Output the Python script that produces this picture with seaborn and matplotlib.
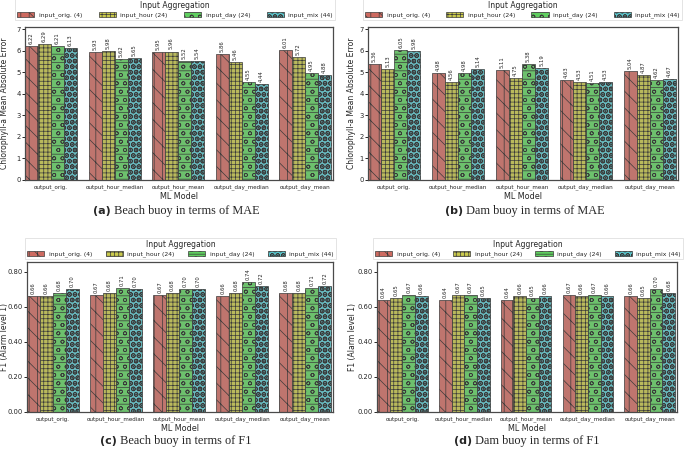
import matplotlib
matplotlib.use("Agg")
import matplotlib.pyplot as plt
import matplotlib.patches as mpatches
import seaborn as sns
import pandas as pd

# data
models = ["output_orig.", "output_hour_median", "output_hour_mean",
          "output_day_median", "output_day_mean"]
inputs = ["input_orig. (4)", "input_hour (24)", "input_day (24)", "input_mix (44)"]

beach_mae = [[6.22, 6.29, 6.21, 6.13],
             [5.93, 5.98, 5.62, 5.65],
             [5.95, 5.96, 5.52, 5.54],
             [5.86, 5.46, 4.55, 4.44],
             [6.01, 5.72, 4.95, 4.88]]
dam_mae = [[5.36, 5.13, 6.05, 5.98],
           [4.98, 4.56, 4.98, 5.14],
           [5.11, 4.75, 5.38, 5.19],
           [4.63, 4.53, 4.51, 4.53],
           [5.04, 4.87, 4.62, 4.67]]
beach_f1 = [[0.66, 0.66, 0.68, 0.70],
            [0.67, 0.68, 0.71, 0.70],
            [0.67, 0.68, 0.70, 0.70],
            [0.66, 0.68, 0.74, 0.72],
            [0.68, 0.68, 0.71, 0.72]]
dam_f1 = [[0.64, 0.65, 0.67, 0.66],
          [0.64, 0.67, 0.67, 0.65],
          [0.64, 0.66, 0.65, 0.66],
          [0.67, 0.66, 0.67, 0.66],
          [0.66, 0.65, 0.70, 0.68]]

colors = ["#cd6a60", "#c9c94c", "#5fcf5f", "#5ac6cc"]
hatches = ["\\\\||", "++++", "--oo", "OOO..."]

sns.set_style("white")
plt.rcParams["font.family"] = ["DejaVu Sans"]
plt.rcParams["hatch.linewidth"] = 0.5

W, H = 685, 449
fig = plt.figure(figsize=(W / 100, H / 100), dpi=100)


def px_axes(l, t, r, b):
    ax = fig.add_axes([l / W, 1 - b / H, (r - l) / W, (b - t) / H])
    ax._px = (l, r)
    return ax


def panel(ax, values, ylabel, ymax, ticks, fmt, leg_box, label_x):
    rows = []
    for m, vals in zip(models, values):
        for inp, v in zip(inputs, vals):
            rows.append({"model": m, "input": inp, "value": v})
    df = pd.DataFrame(rows)
    sns.barplot(data=df, x="model", y="value", hue="input", palette=colors,
                order=models, hue_order=inputs, width=0.82, ax=ax,
                edgecolor="#3a3a3a", linewidth=0.5, legend=False)
    for cont, h in zip(ax.containers, hatches):
        for bar in cont:
            bar.set_hatch(h)
        ax.bar_label(cont, fmt="%.2f", rotation=90, padding=1.5, fontsize=3.8)
    ax.set_xlim(-0.41, 4.44)
    ax.set_ylim(0, ymax)
    ax.set_yticks(ticks)
    ax.set_yticklabels([fmt % t for t in ticks], fontsize=4.9)
    ax.tick_params(axis="x", labelsize=4.1, length=0, pad=3)
    ax.tick_params(axis="y", length=2, width=0.7, left=True, pad=1)
    ax.set_xlabel("ML Model", fontsize=5.8, labelpad=1.5)
    ax.set_ylabel(ylabel, fontsize=5.5)
    l, r = ax._px
    ax.yaxis.set_label_coords((label_x - l) / (r - l), 0.5)
    for s in ax.spines.values():
        s.set_color("#4a4a4a")
        s.set_linewidth(0.9)
    handles = [mpatches.Patch(facecolor=c, edgecolor="#3a3a3a", hatch=h,
                              linewidth=0.5, label=lab)
               for c, h, lab in zip(colors, hatches, inputs)]
    lx0, ly0, lx1, ly1 = leg_box
    bb = ax.transAxes.inverted()
    p0 = bb.transform(fig.transFigure.transform((lx0 / W, 1 - ly1 / H)))
    p1 = bb.transform(fig.transFigure.transform((lx1 / W, 1 - ly0 / H)))
    leg = ax.legend(handles=handles, title="Input Aggregation", ncol=4,
                    loc="lower left", mode="expand",
                    bbox_to_anchor=(p0[0], p0[1], p1[0] - p0[0], p1[1] - p0[1]),
                    fontsize=4.4, title_fontsize=5.5, frameon=True,
                    borderaxespad=0, handlelength=2.8, handleheight=0.9,
                    handletextpad=0.7, columnspacing=1.0, borderpad=0.35,
                    labelspacing=0.2, fancybox=False)
    leg.get_frame().set_edgecolor("#dddddd")
    leg.get_frame().set_linewidth(0.7)


def caption(cx, cy, tag, rest):
    t1 = fig.text(0, 0, tag, fontsize=8, fontweight="bold",
                  family="DejaVu Sans", va="center")
    t2 = fig.text(0, 0, " " + rest, fontsize=8.8, family="Liberation Serif",
                  va="center")
    r = fig.canvas.get_renderer()
    w1 = t1.get_window_extent(r).width
    w2 = t2.get_window_extent(r).width
    x0 = cx - (w1 + w2) / 2
    t1.set_position((x0 / W, 1 - cy / H))
    t2.set_position(((x0 + w1) / W, 1 - cy / H))


mae_ticks = [0, 1, 2, 3, 4, 5, 6, 7]
f1_ticks = [0.0, 0.2, 0.4, 0.6, 0.8]

ax_a = px_axes(25, 27, 333, 180)
panel(ax_a, beach_mae, "Chlorophyll-a Mean Absolute Error", 7.1, mae_ticks,
      "%d", (15, 1, 335, 20), 9)
ax_b = px_axes(368, 27, 678, 180)
panel(ax_b, dam_mae, "Chlorophyll-a Mean Absolute Error", 7.1, mae_ticks,
      "%d", (363, 1, 682, 20), 356)
ax_c = px_axes(27, 262, 333, 412)
panel(ax_c, beach_f1, "F1 (Alarm level 1)", 0.857, f1_ticks, "%.2f",
      (25, 237, 336, 259), 9)
ax_d = px_axes(377, 262, 677, 412)
panel(ax_d, dam_f1, "F1 (Alarm level 1)", 0.857, f1_ticks, "%.2f",
      (373, 237, 683, 259), 357)

caption(176, 211, "(a)", "Beach buoy in terms of MAE")
caption(525, 211, "(b)", "Dam buoy in terms of MAE")
caption(176, 441, "(c)", "Beach buoy in terms of F1")
caption(527, 441, "(d)", "Dam buoy in terms of F1")

fig.savefig("out.png", dpi=100)
